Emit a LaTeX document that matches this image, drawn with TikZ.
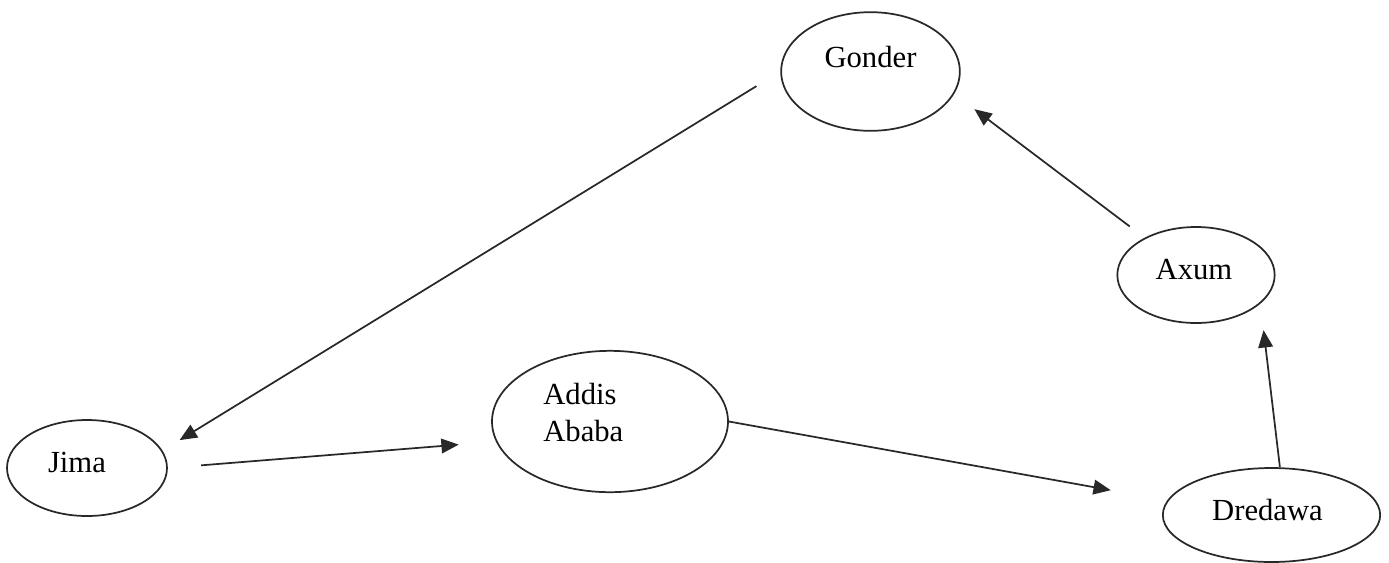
\documentclass[tikz,border=0pt]{standalone}
\usepackage{fontspec}
\setmainfont{Liberation Serif}
\usepackage{tikz}
\usetikzlibrary{shapes.geometric,arrows.meta}
\definecolor{inkgray}{RGB}{40,40,40}

\begin{document}
\begin{tikzpicture}[x=0.75pt,y=0.75pt,yscale=-1,xscale=1,
  font=\fontsize{23}{27.6}\selectfont,
  city/.style={draw=inkgray,line width=1.3pt,ellipse,inner sep=0pt},
  link/.style={draw=inkgray,line width=1.3pt,-{Triangle[length=13pt,width=11pt]}}]
\useasboundingbox (0,0) rectangle (1389,562);

%Shape: Ellipse [id:gonder]
\node [city,minimum width=134pt,minimum height=89pt,
  label={[yshift=10.5pt]center:Gonder}] (gonder) at (870.5,71.5) {};
%Shape: Ellipse [id:axum]
\node [city,minimum width=118pt,minimum height=72pt,
  label={[xshift=-1.5pt,yshift=3.75pt]center:Axum}] (axum) at (1196,275) {};
%Shape: Ellipse [id:addis]
\node [city,minimum width=177pt,minimum height=106pt,
  label={[align=left,xshift=-20pt,yshift=6.75pt]center:Addis\\Ababa}] (addis) at (610,421.5) {};
%Shape: Ellipse [id:jima]
\node [city,minimum width=120pt,minimum height=72pt,
  label={[xshift=-7.5pt,yshift=4.5pt]center:Jima}] (jima) at (87,468) {};
%Shape: Ellipse [id:dredawa]
\node [city,minimum width=163pt,minimum height=70.5pt,
  label={[xshift=-3pt,yshift=3.75pt]center:Dredawa}] (dredawa) at (1271.5,515) {};

%Straight Lines [id:gonder-jima]
\draw [link,shorten <=21pt,shorten >=15pt] (gonder.west) -- (jima.13);
%Straight Lines [id:jima-addis]
\draw [link,shorten <=25pt,shorten >=28pt] (jima.east) -- (addis.190);
%Straight Lines [id:addis-dredawa]
\draw [link,shorten >=43pt] (addis.east) -- (dredawa.172);
%Straight Lines [id:dredawa-axum]
\draw [link,shorten >=20pt] (dredawa.80) -- (axum.-24);
%Straight Lines [id:axum-gonder]
\draw [link,shorten <=14pt,shorten >=19pt] (axum.144) -- (gonder.-15);

\end{tikzpicture}
\end{document}
